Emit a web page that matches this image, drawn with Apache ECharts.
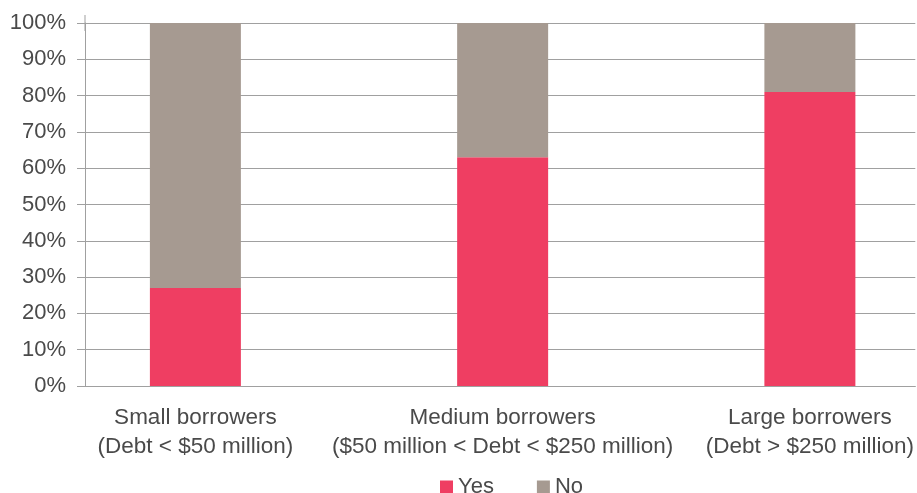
<!DOCTYPE html>
<html><head><meta charset="utf-8">
<script src="https://cdn.jsdelivr.net/npm/echarts@6/dist/echarts.min.js"></script>
<style>html,body{margin:0;padding:0;background:#fff}#chart{width:917px;height:493px}</style>
</head><body><div id="chart"></div>
<script>
// Share of borrowers answering Yes / No, by borrower size
const categories = [
  'Small borrowers\n(Debt < $50 million)',
  'Medium borrowers\n($50 million < Debt < $250 million)',
  'Large borrowers\n(Debt > $250 million)'
];
const yesValues = [27, 63, 81];
const noValues = [73, 37, 19];
const seriesNames = ['Yes', 'No'];

const textColor = '#4a4a4a';
const lineColor = '#a0a0a0';
const font = 'Liberation Sans, Arial, Helvetica, sans-serif';

// Category slots sit on a numeric axis so the bars can be offset inside the plot.
// Rows are [share, slot] so that the share dimension is the one that stacks.
const slotIndex = categories.map((_, i) => i);
const toRows = vals => vals.map((v, i) => [v, slotIndex[i]]);

const chart = echarts.init(document.getElementById('chart'));
chart.setOption({
  animation: false,
  textStyle: { fontFamily: font },
  grid: { left: 85, right: 1, top: 23, height: 363 },
  legend: {
    data: seriesNames,
    left: 440, top: 476, padding: 0,
    icon: 'rect', itemWidth: 13, itemHeight: 13, itemGap: 43,
    textStyle: { fontSize: 22, color: textColor, fontFamily: font }
  },
  xAxis: {
    type: 'value', min: -0.3593, max: 2.3431,
    splitLine: { show: false },
    axisLine: { show: true, onZero: false, lineStyle: { color: lineColor, width: 1 } },
    axisTick: { show: false },
    axisLabel: {
      customValues: slotIndex,
      formatter: v => categories[Math.round(v)],
      fontSize: 22.5, lineHeight: 29, margin: 17, color: textColor, fontFamily: font
    }
  },
  yAxis: {
    type: 'value', min: 0, max: 100, interval: 10,
    axisLine: {
      show: true, onZero: false,
      // small overshoot above the top gridline
      symbol: ['none', 'rect'], symbolSize: [1, 16],
      lineStyle: { color: lineColor, width: 1 }
    },
    axisTick: { show: true, length: 8, lineStyle: { color: lineColor } },
    axisLabel: { formatter: '{value}%', fontSize: 22, margin: 19, color: textColor, fontFamily: font },
    splitLine: { lineStyle: { color: lineColor, width: 1 } }
  },
  series: [
    {
      name: seriesNames[0], type: 'bar', stack: 'share', data: toRows(yesValues),
      encode: { x: 1, y: 0 },
      barWidth: 91, itemStyle: { color: '#ef3e62' }
    },
    {
      name: seriesNames[1], type: 'bar', stack: 'share', data: toRows(noValues),
      encode: { x: 1, y: 0 },
      barWidth: 91, itemStyle: { color: '#a69a91' }
    }
  ]
});
</script>
</body></html>
